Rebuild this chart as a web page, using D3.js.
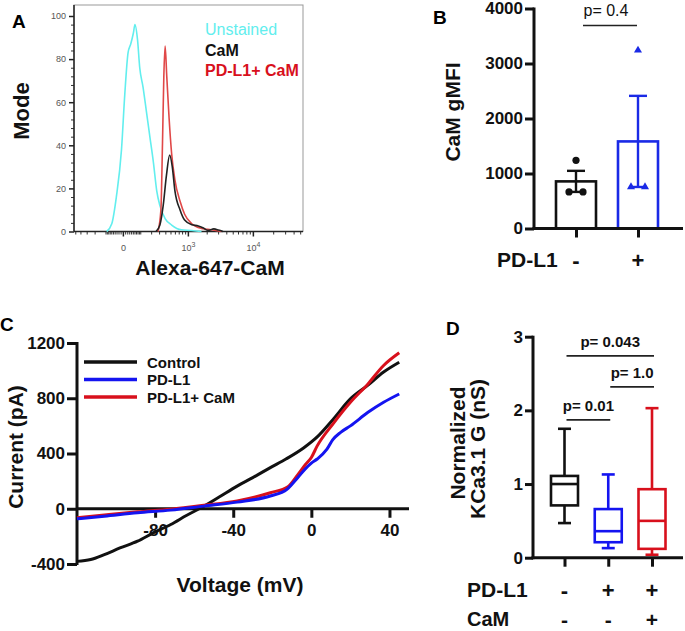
<!DOCTYPE html>
<html>
<head>
<meta charset="utf-8">
<script src="https://cdn.jsdelivr.net/npm/d3@7"></script>
<style>
  body { margin: 0; background: #fff; }
  text { font-family: 'Liberation Sans', Arial, sans-serif; }
</style>
</head>
<body>
<svg id="fig" width="685" height="631"></svg>
<script>
// ---------- data ----------
// A: flow histograms, [fluorescence, % of mode]
const unstainedHist = [[-91, 0], [-57, 3.6], [-31, 16], [-6, 38], [8.5, 64], [24, 83], [38, 87], [53, 92], [63, 96], [80, 89], [96, 76], [122, 67], [151, 56], [186, 44], [226, 32], [267, 19], [312, 12], [396, 6], [525, 3], [778, 0.8], [1158, 0.5], [1659, 0]];
const camHist = [[258, 0], [312, 3], [363, 12], [420, 26], [483, 35.5], [539, 30], [600, 19], [739, 10], [883, 5.3], [1158, 3.1], [1474, 2.6], [1780, 1.6], [2097, 0.5], [2584, 1.2], [3035, 0.7], [3558, 0]];
const pdl1CamHist = [[284, 0], [327, 10], [352, 41], [374, 72], [396, 86], [426, 72], [470, 53], [525, 36], [600, 24], [739, 14], [883, 8], [1158, 3.6], [1659, 1.4], [2356, 0.8], [3399, 0]];
const histNames = ['Unstained', 'CaM', 'PD-L1+ CaM'];
const modeTicks = [0, 20, 40, 60, 80, 100];
const fluorTicks = [0, 1000, 10000];
const fluorTickLabels = [['0', ''], ['10', '3'], ['10', '4']];

// B: CaM gMFI per group
const gmfiGroups = ['-', '+'];
const gmfiPoints = [[1240, 665, 665], [3240, 755, 755]];
const gmfiTicks = [0, 1000, 2000, 3000, 4000];
const gmfiP = 'p= 0.4';

// C: I-V curves, [mV, pA]
const controlIV = [[-120, -381], [-113, -368], [-106, -332], [-98, -284], [-89, -235], [-81, -175], [-72, -114], [-64, -49], [-55, 19], [-47, 87], [-38, 164], [-30, 225], [-21, 298], [-13, 360], [-4, 440], [3, 520], [11, 645], [20, 795], [29, 895], [37, 990], [45, 1061]];
const pdl1IV = [[-120, -73], [-106, -54], [-89, -29], [-72, -10], [-55, 19], [-38, 48], [-21, 92], [-12.5, 140], [-7, 225], [-3, 290], [0, 330], [3, 360], [8, 431], [11, 500], [15, 553], [20, 600], [29, 698], [37, 771], [45, 831]];
const pdl1CamIV = [[-120, -65], [-106, -45], [-89, -22], [-72, -3], [-55, 25], [-38, 57], [-21, 116], [-12, 160], [-7, 245], [-3, 320], [0, 371], [3, 455], [11, 613], [20, 771], [29, 904], [37, 1037], [45, 1129]];
const ivNames = ['Control', 'PD-L1', 'PD-L1+ CaM'];
const voltTicks = [-80, -40, 0, 40];
const currTicks = [-400, 0, 400, 800, 1200];

// D: normalized KCa3.1 conductance box plots
const condGroups = ['ctrl', 'pdl1', 'pdl1cam'];
const condMin = [0.47, 0.13, 0.04];
const condQ1 = [0.71, 0.21, 0.12];
const condMedian = [1.0, 0.36, 0.50];
const condQ3 = [1.11, 0.66, 0.93];
const condMax = [1.75, 1.13, 2.03];
const condTicks = [0, 1, 2, 3];
const pdl1Row = ['-', '+', '+'];
const camRow = ['-', '-', '+'];
const condComparisons = [
  { a: 0, b: 1, level: 1.87, label: 'p= 0.01' },
  { a: 1, b: 2, level: 2.32, label: 'p= 1.0' },
  { a: 0, b: 2, level: 2.74, label: 'p= 0.043' }
];

// ---------- styling ----------
const colors = {
  black: '#111',
  cyan: '#62eeee',
  redA: '#e04848',
  blue: '#1414f0',
  red: '#d8101c',
  tickGrey: '#555',
  frame: '#999'
};
const plain = d => String(d);   // hyphen minus, no thousands comma
const svg = d3.select('#fig');

function styleAxis(g, size, width) {
  g.select('.domain').remove();
  g.selectAll('.tick line').attr('stroke', colors.black).attr('stroke-width', width);
  g.selectAll('.tick text')
    .attr('fill', colors.black)
    .style('font-size', size + 'px')
    .style('font-weight', 'bold')
    .style('font-family', "'Liberation Sans', Arial, sans-serif");
}

function panelLetter(letter, x, y) {
  svg.append('text').attr('x', x).attr('y', y)
    .style('font-size', '19px').style('font-weight', 'bold').text(letter);
}

function boldText(g, str, x, y, size, opts = {}) {
  const t = g.append('text')
    .attr('text-anchor', opts.anchor || 'middle')
    .style('font-size', size + 'px')
    .style('font-weight', opts.weight || 'bold')
    .attr('fill', opts.fill || colors.black)
    .text(str);
  if (opts.rotate) t.attr('transform', `translate(${x},${y}) rotate(-90)`);
  else t.attr('x', x).attr('y', y);
  return t;
}

// ---------- A ----------
(function drawA() {
  const g = svg.append('g');
  const frame = { left: 74, right: 303, top: 5, bottom: 231.5 };
  const x = d3.scaleSymlog().constant(125).domain([-550, 55000]).range([73, 303]);
  const y = d3.scaleLinear().domain([0, 100]).range([231.5, 16]);

  g.append('rect')
    .attr('x', frame.left).attr('y', frame.top)
    .attr('width', frame.right - frame.left).attr('height', frame.bottom - frame.top)
    .attr('fill', 'none').attr('stroke', colors.frame).attr('stroke-width', 1);

  const minorY = d3.range(0, 101, 4).filter(v => v % 20 !== 0);
  g.append('g').attr('transform', `translate(${frame.left},0)`)
    .call(d3.axisLeft(y).tickValues(minorY).tickSize(3).tickFormat(''))
    .call(a => { a.select('.domain').remove(); a.selectAll('line').attr('stroke', '#333'); });
  g.append('g').attr('transform', `translate(${frame.left},0)`)
    .call(d3.axisLeft(y).tickValues(modeTicks).tickSize(5).tickPadding(3))
    .call(a => {
      a.select('.domain').remove();
      a.selectAll('line').attr('stroke', '#222').attr('stroke-width', 1.5);
      a.selectAll('text').attr('fill', colors.tickGrey).style('font-size', '9px');
    });

  const minorX = [].concat(
    d3.range(-500, -99, 100), d3.range(-90, 91, 10).filter(v => v !== 0),
    d3.range(100, 901, 100), d3.range(2000, 9001, 1000), d3.range(20000, 50001, 10000));
  g.append('g').attr('transform', `translate(0,${frame.bottom})`)
    .call(d3.axisBottom(x).tickValues(minorX).tickSize(3).tickFormat(''))
    .call(a => { a.select('.domain').remove(); a.selectAll('line').attr('stroke', '#333'); });
  g.append('g').attr('transform', `translate(0,${frame.bottom})`)
    .call(d3.axisBottom(x).tickValues(fluorTicks).tickSize(5).tickPadding(6).tickFormat(''))
    .call(a => {
      a.select('.domain').remove();
      a.selectAll('line').attr('stroke', '#222').attr('stroke-width', 1.5);
      a.selectAll('.tick').append('text')
        .attr('y', 19).attr('text-anchor', 'middle')
        .attr('fill', colors.tickGrey).style('font-size', '9px')
        .each(function (d, i) {
          const lab = fluorTickLabels[i];
          const t = d3.select(this);
          t.append('tspan').text(lab[0]);
          if (lab[1]) t.append('tspan').attr('dy', -4).style('font-size', '7px').text(lab[1]);
        });
    });

  // dark left & bottom axes over the grey frame
  g.append('line').attr('x1', frame.left).attr('x2', frame.left)
    .attr('y1', frame.top).attr('y2', frame.bottom).attr('stroke', '#222').attr('stroke-width', 1.5);
  g.append('line').attr('x1', frame.left).attr('x2', frame.right)
    .attr('y1', frame.bottom).attr('y2', frame.bottom).attr('stroke', '#222').attr('stroke-width', 1.5);

  const line = d3.line().x(d => x(d[0])).y(d => y(d[1])).curve(d3.curveMonotoneX);
  const series = [
    { data: unstainedHist, color: colors.cyan },
    { data: pdl1CamHist, color: colors.redA },
    { data: camHist, color: '#222' }
  ];
  g.selectAll('path.hist').data(series).enter().append('path')
    .attr('class', 'hist')
    .attr('d', d => line(d.data))
    .attr('fill', 'none').attr('stroke', d => d.color).attr('stroke-width', 1.6);

  const legendColors = [colors.cyan, '#111', colors.red];
  histNames.forEach((n, i) => {
    boldText(g, n, 205, 35 + i * 20.5, 16,
      { anchor: 'start', fill: legendColors[i], weight: i === 0 ? 'normal' : 'bold' });
  });

  boldText(g, 'Mode', 29, 111, 22, { rotate: true });
  boldText(g, 'Alexa-647-CaM', 210, 275, 21);
  panelLetter('A', 12, 28);
})();

// ---------- B ----------
(function drawB() {
  const g = svg.append('g');
  const x = d3.scalePoint().domain(gmfiGroups).range([576, 638]);
  const y = d3.scaleLinear().domain([0, 4000]).range([228.5, 8.5]);
  const axisX = 534;
  const barColors = [colors.black, '#1a2ae6'];
  const barW = 40;

  const stats = gmfiPoints.map(p => {
    const m = d3.mean(p);
    const sem = d3.deviation(p) / Math.sqrt(p.length);
    return { mean: m, lo: m - sem, hi: m + sem };
  });

  g.selectAll('rect.bar').data(gmfiGroups).enter().append('rect')
    .attr('class', 'bar')
    .attr('x', d => x(d) - barW / 2)
    .attr('y', (d, i) => y(stats[i].mean))
    .attr('width', barW)
    .attr('height', (d, i) => y(0) - y(stats[i].mean))
    .attr('fill', 'none')
    .attr('stroke', (d, i) => barColors[i])
    .attr('stroke-width', 2.6);

  // error bars (mean +/- SEM)
  gmfiGroups.forEach((grp, i) => {
    const cx = x(grp), s = stats[i], c = barColors[i], cap = 9;
    g.append('line').attr('x1', cx).attr('x2', cx).attr('y1', y(s.lo)).attr('y2', y(s.hi))
      .attr('stroke', c).attr('stroke-width', 2.4);
    [s.lo, s.hi].forEach(v => g.append('line')
      .attr('x1', cx - cap).attr('x2', cx + cap).attr('y1', y(v)).attr('y2', y(v))
      .attr('stroke', c).attr('stroke-width', 2.4));

    // individual points: repeated values spread sideways
    const seen = {};
    gmfiPoints[i].forEach(v => {
      const count = gmfiPoints[i].filter(w => w === v).length;
      seen[v] = (seen[v] || 0) + 1;
      const off = count > 1 ? (seen[v] - (count + 1) / 2) * 14 : 0;
      if (i === 0) {
        g.append('circle').attr('cx', cx + off).attr('cy', y(v)).attr('r', 3.6).attr('fill', c);
      } else {
        const sym = d3.symbol().type(d3.symbolTriangle).size(28);
        g.append('path').attr('d', sym()).attr('fill', c)
          .attr('transform', `translate(${cx + off},${y(v)})`);
      }
    });
  });

  g.append('g').attr('transform', `translate(${axisX},0)`)
    .call(d3.axisLeft(y).tickValues(gmfiTicks).tickSize(9).tickPadding(2).tickFormat(plain))
    .call(a => styleAxis(a, 17, 3));
  g.append('line').attr('x1', axisX).attr('x2', axisX).attr('y1', y(4000) - 1).attr('y2', y(0) + 1.5)
    .attr('stroke', colors.black).attr('stroke-width', 3);
  g.append('g').attr('transform', `translate(0,${y(0)})`)
    .call(d3.axisBottom(x).tickSize(9).tickFormat(''))
    .call(a => styleAxis(a, 17, 3));
  g.append('line').attr('x1', axisX - 1.5).attr('x2', 683).attr('y1', y(0)).attr('y2', y(0))
    .attr('stroke', colors.black).attr('stroke-width', 3);

  // significance
  const sigY = y(3690);
  g.append('line').attr('x1', x('-') + 7).attr('x2', x('+') - 1).attr('y1', sigY).attr('y2', sigY)
    .attr('stroke', '#222').attr('stroke-width', 1.6);
  boldText(g, gmfiP, 606, 16, 16, { weight: 'normal' });

  boldText(g, 'CaM gMFI', 460, 112, 21, { rotate: true });
  boldText(g, 'PD-L1', 497, 267, 21, { anchor: 'start' });
  gmfiGroups.forEach(grp => boldText(g, grp, x(grp), 268, 22));
  panelLetter('B', 433, 24);
})();

// ---------- C ----------
(function drawC() {
  const g = svg.append('g');
  const x = d3.scaleLinear().domain([-120, 50]).range([77, 409]);
  const y = d3.scaleLinear().domain([-400, 1200]).range([564, 343]);

  g.append('g').attr('transform', `translate(${x(-120)},0)`)
    .call(d3.axisLeft(y).tickValues(currTicks).tickSize(10).tickPadding(2).tickFormat(plain))
    .call(a => styleAxis(a, 17, 3));
  g.append('line').attr('x1', x(-120)).attr('x2', x(-120)).attr('y1', y(1200) - 1).attr('y2', y(-400) + 1)
    .attr('stroke', colors.black).attr('stroke-width', 3);
  g.append('g').attr('transform', `translate(0,${y(0)})`)
    .call(d3.axisBottom(x).tickValues(voltTicks).tickSize(9).tickPadding(6).tickFormat(plain))
    .call(a => styleAxis(a, 17, 3));
  g.append('line').attr('x1', x(-120)).attr('x2', x(50)).attr('y1', y(0)).attr('y2', y(0))
    .attr('stroke', colors.black).attr('stroke-width', 3);

  const line = d3.line().x(d => x(d[0])).y(d => y(d[1])).curve(d3.curveMonotoneX);
  const series = [
    { data: controlIV, color: colors.black },
    { data: pdl1CamIV, color: colors.red },
    { data: pdl1IV, color: colors.blue }
  ];
  g.selectAll('path.iv').data(series).enter().append('path')
    .attr('class', 'iv')
    .attr('d', d => line(d.data))
    .attr('fill', 'none').attr('stroke', d => d.color).attr('stroke-width', 3);

  const legendColors = [colors.black, colors.blue, colors.red];
  ivNames.forEach((n, i) => {
    const ly = 362 + i * 17.5;
    g.append('line').attr('x1', 84).attr('x2', 137).attr('y1', ly).attr('y2', ly)
      .attr('stroke', legendColors[i]).attr('stroke-width', 3.5);
    boldText(g, n, 147, ly + 5.5, 15, { anchor: 'start' });
  });

  boldText(g, 'Current (pA)', 23, 447, 21, { rotate: true });
  boldText(g, 'Voltage (mV)', 240, 592, 21);
  panelLetter('C', 0, 331);
})();

// ---------- D ----------
(function drawD() {
  const g = svg.append('g');
  const x = d3.scalePoint().domain(condGroups).range([564.5, 652]);
  const y = d3.scaleLinear().domain([0, 3]).range([557.7, 336.7]);
  const axisX = 533;
  const boxColors = [colors.black, colors.blue, colors.red];
  const boxW = 27, capW = 13;

  condGroups.forEach((grp, i) => {
    const cx = x(grp), c = boxColors[i];
    const add = (x1, y1, x2, y2) => g.append('line')
      .attr('x1', x1).attr('y1', y1).attr('x2', x2).attr('y2', y2)
      .attr('stroke', c).attr('stroke-width', 2.6);
    add(cx, y(condMax[i]), cx, y(condQ3[i]));
    add(cx, y(condQ1[i]), cx, y(condMin[i]));
    add(cx - capW / 2, y(condMax[i]), cx + capW / 2, y(condMax[i]));
    add(cx - capW / 2, y(condMin[i]), cx + capW / 2, y(condMin[i]));
    g.append('rect')
      .attr('x', cx - boxW / 2).attr('y', y(condQ3[i]))
      .attr('width', boxW).attr('height', y(condQ1[i]) - y(condQ3[i]))
      .attr('fill', 'none').attr('stroke', c).attr('stroke-width', 2.6);
    add(cx - boxW / 2, y(condMedian[i]), cx + boxW / 2, y(condMedian[i]));
  });

  g.append('g').attr('transform', `translate(${axisX},0)`)
    .call(d3.axisLeft(y).tickValues(condTicks).tickSize(8).tickPadding(2).tickFormat(plain))
    .call(a => styleAxis(a, 17, 3));
  g.append('line').attr('x1', axisX).attr('x2', axisX).attr('y1', y(3) - 1).attr('y2', y(0) + 1.5)
    .attr('stroke', colors.black).attr('stroke-width', 3);
  g.append('g').attr('transform', `translate(0,${y(0)})`)
    .call(d3.axisBottom(x).tickSize(9).tickFormat(''))
    .call(a => styleAxis(a, 17, 3));
  g.append('line').attr('x1', axisX - 1.5).attr('x2', 683).attr('y1', y(0)).attr('y2', y(0))
    .attr('stroke', colors.black).attr('stroke-width', 3);

  condComparisons.forEach(cmp => {
    const x1 = x(condGroups[cmp.a]) + 2, x2 = x(condGroups[cmp.b]) + 2;
    const ly = y(cmp.level);
    g.append('line').attr('x1', x1).attr('x2', x2).attr('y1', ly).attr('y2', ly)
      .attr('stroke', '#222').attr('stroke-width', 1.8);
    boldText(g, cmp.label, (x1 + x2) / 2, ly - 9, 15);
  });

  boldText(g, 'Normalized', 465, 443, 21, { rotate: true });
  boldText(g, 'KCa3.1 G (nS)', 485, 449, 21, { rotate: true });
  boldText(g, 'PD-L1', 467, 597, 21, { anchor: 'start' });
  boldText(g, 'CaM', 467, 626, 20, { anchor: 'start' });
  condGroups.forEach((grp, i) => {
    boldText(g, pdl1Row[i], x(grp), 598, 22);
    boldText(g, camRow[i], x(grp), 627, 21);
  });
  panelLetter('D', 446, 335);
})();
</script>
</body>
</html>
